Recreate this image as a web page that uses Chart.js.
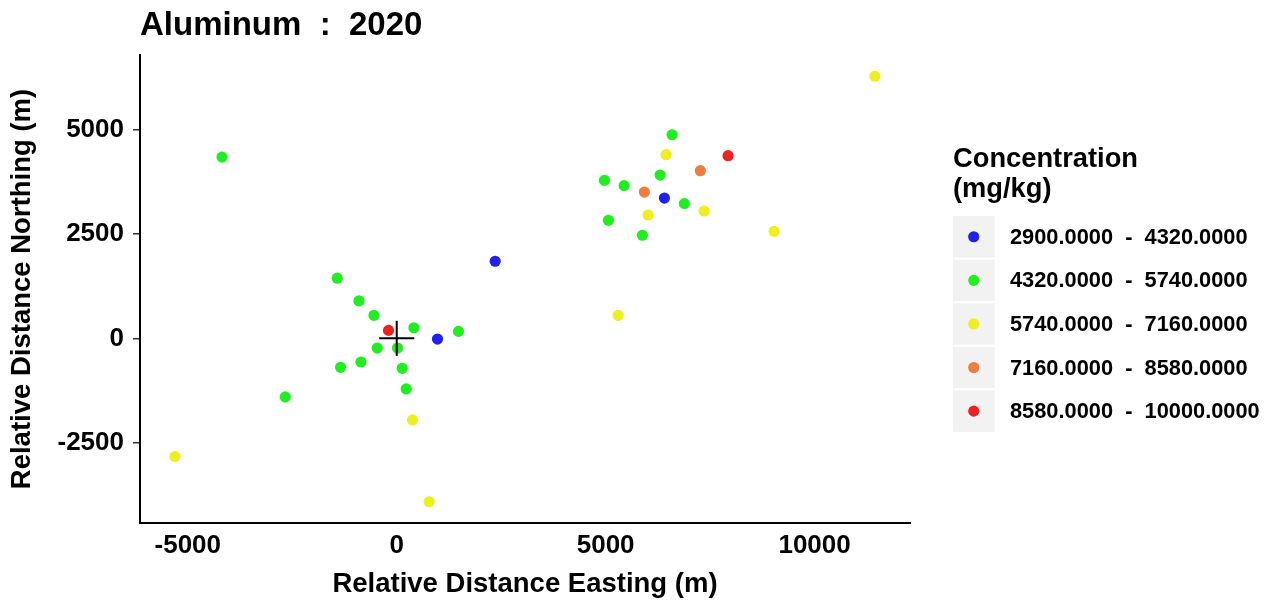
<!DOCTYPE html>
<html>
<head>
<meta charset="utf-8">
<title>Aluminum : 2020</title>
<script src="https://cdn.jsdelivr.net/npm/chart.js@4.4.1/dist/chart.umd.min.js"></script>
<style>
  html, body { margin: 0; padding: 0; background: #ffffff; }
  #wrap { width: 1270px; height: 603px; }
</style>
</head>
<body>
<div id="wrap"><canvas id="map" width="1270" height="603"></canvas></div>
<script>
// Concentration class limits (mg/kg)
const classBreaks = [2900, 4320, 5740, 7160, 8580, 10000];

// Sample locations relative to the reference point (m), one pair of arrays per class
const eastingBin1  = [976, 2356, 6406];
const northingBin1 = [-17, 1847, 3360];

const eastingBin2  = [-1423, -904, -545, 411, 1478, -466, 19, -856, -1344, 132,
                      227, -2667, -4181, 6590, 6303, 4971, 5442, 6884, 5066, 5880];
const northingBin2 = [1441, 899, 550, 253, 167, -232, -232, -566, -693, -717,
                      -1212, -1403, 4340, 4876, 3910, 3783, 3657, 3227, 2827, 2469];

const eastingBin3  = [378, -5306, 777, 11446, 6447, 7356, 6016, 9030, 5298];
const northingBin3 = [-1953, -2830, -3912, 6276, 4398, 3050, 2954, 2564, 550];

const eastingBin4  = [7267, 5927];
const northingBin4 = [4015, 3504];

const eastingBin5  = [-196, 7930];
const northingBin5 = [191, 4374];

// Axis tick values
const xTicks = [-5000, 0, 5000, 10000];
const yTicks = [-2500, 0, 2500, 5000];

// Half-length of the origin cross (m)
const originCrossHalf = 420;

const classColors = ['#2121EE', '#21EE21', '#EEEE21', '#EE7E3E', '#EE2121'];

const bins = [
  [eastingBin1, northingBin1],
  [eastingBin2, northingBin2],
  [eastingBin3, northingBin3],
  [eastingBin4, northingBin4],
  [eastingBin5, northingBin5]
];

const fmt = v => v.toFixed(4);
const classLabels = classBreaks.slice(0, -1).map((b, i) => fmt(b) + '  -  ' + fmt(classBreaks[i + 1]));

// axis limits with a 5% margin around the samples
const allE = bins.flatMap(b => b[0]);
const allN = bins.flatMap(b => b[1]);
const eMin = Math.min(...allE), eMax = Math.max(...allE);
const nMin = Math.min(...allN), nMax = Math.max(...allN);
const ePad = (eMax - eMin) * 0.05, nPad = (nMax - nMin) * 0.05;

const FONT = "'Liberation Sans', Arial, Helvetica, sans-serif";
Chart.defaults.font.family = FONT;
Chart.defaults.color = '#000000';

const plainNumber = v => String(v);

const pointSets = bins.map((b, i) => ({
  label: classLabels[i],
  data: b[0].map((e, k) => ({ x: e, y: b[1][k] })),
  backgroundColor: classColors[i],
  borderColor: classColors[i],
  borderWidth: 0,
  pointRadius: 5.6,
  pointHoverRadius: 5.6,
  showLine: false,
  order: 1
}));

const crossSets = [
  [{ x: -originCrossHalf, y: 0 }, { x: originCrossHalf, y: 0 }],
  [{ x: 0, y: -originCrossHalf }, { x: 0, y: originCrossHalf }]
].map(seg => ({
  label: '',
  data: seg,
  showLine: true,
  borderColor: '#000000',
  borderWidth: 2,
  pointRadius: 0,
  fill: false,
  order: 0,
  isCross: true
}));

// Class key drawn to the right of the plot
const keyPlugin = {
  id: 'concentrationKey',
  afterDraw(chart) {
    const ctx = chart.ctx;
    const left = 953, top = 216, box = 41.5, pitch = 43.6;
    ctx.save();
    ctx.fillStyle = '#000000';
    ctx.textAlign = 'left';
    ctx.textBaseline = 'alphabetic';
    ctx.font = 'bold 27.3px ' + FONT;
    ['Concentration', '(mg/kg)'].forEach((t, i) => ctx.fillText(t, left, 166.7 + i * 30));
    ctx.font = 'bold 21.8px ' + FONT;
    ctx.textBaseline = 'middle';
    chart.data.datasets.filter(d => !d.isCross).forEach((ds, i) => {
      const y = top + i * pitch;
      ctx.fillStyle = '#F2F2F2';
      ctx.fillRect(left, y, box, box);
      ctx.fillStyle = ds.backgroundColor;
      ctx.beginPath();
      ctx.arc(left + box / 2, y + box / 2, 5.6, 0, Math.PI * 2);
      ctx.fill();
      ctx.fillStyle = '#000000';
      ctx.fillText(ds.label, 1010, y + box / 2 + 1);
    });
    ctx.restore();
  }
};

new Chart(document.getElementById('map'), {
  type: 'scatter',
  data: { datasets: [...crossSets, ...pointSets] },
  plugins: [keyPlugin],
  options: {
    responsive: false,
    animation: false,
    devicePixelRatio: 1,
    layout: { padding: { left: 0, right: 360, top: 0, bottom: 0 } },
    plugins: {
      legend: { display: false },
      tooltip: { enabled: false },
      title: {
        display: true,
        text: 'Aluminum  :  2020',
        align: 'start',
        fullSize: false,
        color: '#000000',
        font: { size: 33, weight: 'bold' },
        padding: { top: 6.5, bottom: 8.9 }
      }
    },
    scales: {
      x: {
        type: 'linear',
        min: eMin - ePad,
        max: eMax + ePad,
        afterBuildTicks: s => { s.ticks = xTicks.map(v => ({ value: v })); },
        afterFit: s => { s.height = 80; },
        grid: { display: true, drawOnChartArea: false, drawTicks: false, color: 'rgba(0,0,0,0)' },
        border: { display: true, color: '#000000', width: 2 },
        ticks: { color: '#000000', font: { size: 26, weight: 'bold' }, padding: 7.5, maxRotation: 0, callback: plainNumber },
        title: {
          display: true,
          text: 'Relative Distance Easting (m)',
          color: '#000000',
          font: { size: 27.5, weight: 'bold' },
          padding: { top: 0, bottom: 2.3 }
        }
      },
      y: {
        type: 'linear',
        min: nMin - nPad,
        max: nMax + nPad,
        afterBuildTicks: s => { s.ticks = yTicks.map(v => ({ value: v })); },
        afterFit: s => { s.width = 140; },
        grid: { display: true, drawOnChartArea: false, drawTicks: true, tickLength: 7, color: '#333333', lineWidth: 1.5 },
        border: { display: true, color: '#000000', width: 2 },
        ticks: { color: '#000000', font: { size: 26, weight: 'bold' }, padding: 9, callback: plainNumber },
        title: {
          display: true,
          text: 'Relative Distance Northing (m)',
          color: '#000000',
          font: { size: 27.5, weight: 'bold' },
          padding: { top: 6.3, bottom: 0 }
        }
      }
    }
  }
});
</script>
</body>
</html>
